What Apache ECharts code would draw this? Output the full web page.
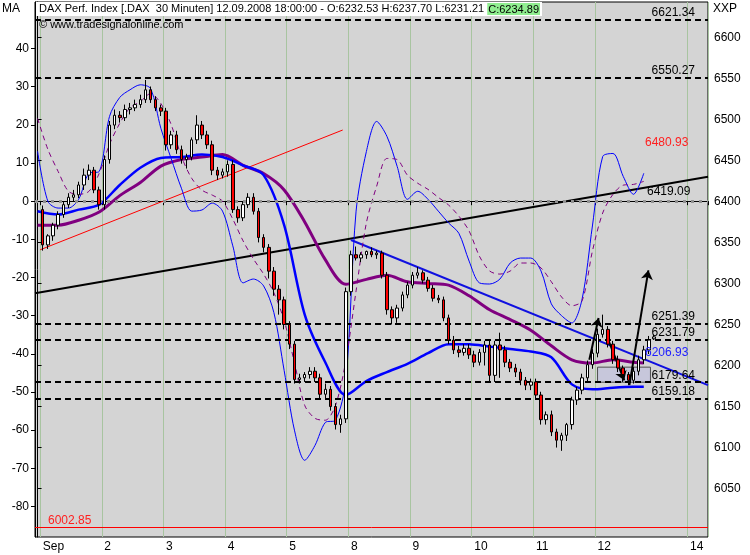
<!DOCTYPE html>
<html><head><meta charset="utf-8">
<script src="https://cdn.jsdelivr.net/npm/echarts@6/dist/echarts.min.js"></script>
<style>html,body{margin:0;padding:0;background:#fff}#c{width:750px;height:555px}</style>
</head><body><div id="c"></div>
<script>
// ---- data ----
const dayLabels = ['Sep','2','3','4','5','8','9','10','11','12'];
const futureLabel = '14';
const priceTicks = [6050,6100,6150,6200,6250,6300,6350,6400,6450,6500,6550,6600];
const maTicks = [-80,-70,-60,-50,-40,-30,-20,-10,0,10,20,30,40];
const opens = [
 6390,6347,6358,6371,6384,6396,6405,6408,6420,6432,6438,6414,
 6396,6451,6493,6505,6502,6512,6514,6518,6524,6536,6524,6514,
 6510,6469,6481,6463,6451,6454,6475,6493,6481,6469,6438,6432,
 6436,6445,6390,6380,6396,6405,6388,6356,6344,6315,6293,6280,
 6250,6226,6183,6185,6189,6193,6185,6165,6171,6150,6128,6135,
 6290,6335,6331,6335,6339,6335,6337,6310,6268,6258,6270,6286,
 6298,6310,6313,6304,6294,6282,6280,6258,6231,6219,6216,6221,
 6213,6204,6216,6225,6188,6225,6219,6204,6197,6192,6182,6176,
 6180,6164,6134,6140,6119,6109,6115,6128,6158,6170,6185,6201,
 6215,6238,6244,6226,6207,6197,6189,6182,6193,6207,6219,6232.53];
const closes = [
 6347,6358,6371,6384,6396,6405,6408,6420,6432,6438,6414,6396,
 6451,6493,6505,6502,6512,6514,6518,6524,6536,6524,6514,6510,
 6469,6481,6463,6451,6454,6475,6493,6481,6469,6438,6432,6436,
 6445,6390,6380,6396,6405,6388,6356,6344,6315,6293,6280,6250,
 6226,6183,6185,6189,6193,6185,6165,6171,6150,6128,6135,6290,
 6335,6331,6335,6339,6335,6337,6310,6268,6258,6270,6286,6298,
 6310,6313,6304,6294,6282,6280,6258,6231,6219,6216,6221,6213,
 6204,6216,6225,6188,6225,6219,6204,6197,6192,6182,6176,6180,
 6164,6134,6140,6119,6109,6115,6128,6158,6170,6185,6201,6215,
 6238,6244,6226,6207,6197,6189,6182,6193,6207,6219,6231,6234.89];
const highs = [
 6395,6360,6374,6388,6400,6410,6414,6424,6440,6445,6442,6418,
 6456,6498,6512,6510,6518,6520,6524,6530,6548,6540,6528,6518,
 6514,6486,6486,6468,6458,6478,6505,6498,6486,6474,6442,6440,
 6450,6450,6394,6400,6410,6410,6392,6360,6348,6320,6298,6284,
 6254,6230,6190,6192,6198,6198,6190,6178,6175,6154,6140,6295,
 6340,6345,6338,6340,6344,6340,6340,6314,6272,6274,6290,6302,
 6314,6320,6316,6308,6298,6286,6284,6262,6236,6224,6226,6226,
 6218,6220,6230,6232,6230,6240,6224,6208,6202,6196,6186,6184,
 6184,6168,6144,6145,6123,6118,6130,6162,6174,6190,6206,6220,
 6245,6262,6248,6230,6212,6200,6192,6198,6212,6224,6236,6237.70];
const lows = [
 6340,6342,6352,6366,6380,6392,6400,6404,6414,6426,6410,6390,
 6390,6446,6488,6496,6498,6506,6510,6514,6520,6520,6510,6504,
 6462,6464,6458,6446,6440,6450,6470,6476,6464,6432,6426,6428,
 6430,6386,6374,6376,6392,6384,6350,6338,6306,6285,6262,6244,
 6220,6178,6178,6180,6184,6180,6160,6160,6145,6122,6118,6130,
 6285,6328,6326,6330,6332,6330,6306,6262,6250,6252,6266,6282,
 6294,6306,6300,6290,6278,6276,6254,6226,6214,6210,6212,6208,
 6198,6200,6200,6180,6180,6185,6198,6192,6186,6176,6170,6170,
 6160,6128,6128,6114,6100,6096,6108,6122,6152,6165,6180,6196,
 6210,6234,6222,6202,6192,6180,6176,6178,6188,6202,6214,6231.21];
// thick averages (price), sampled at bar positions
const maPos = [0,4,8,12,16,20,24,28,32,36,40,44,48,52,56,60,64,68,72,76,80,84,88,92,96,100,104,108,112,116,118];
const maBlue = [6388,6384,6390,6396,6420,6441,6453,6454,6457,6454,6444,6432,6371,6262,6204,6164,6181,6192,6202,6215,6226,6226,6223,6220,6217,6210,6177,6171,6173,6174,6174];
const maPurple = [6371,6371,6377,6387,6407,6423,6443,6451,6454,6457,6444,6434,6414,6375,6329,6299,6305,6310,6302,6300,6298,6285,6268,6256,6243,6224,6207,6203,6207,6204,6203];
// oscillators (left axis), sampled every 2 bars from 0 to 118
const oscBlue = [13.1,0,-1.8,-1.8,0.5,7.3,7.8,22.2,27.2,29.2,30.5,29.5,19.1,11.2,3.4,-2.6,-2.3,-0.5,-2.6,-11.7,-21.4,-20.4,-22.2,-29.2,-44.4,-60,-67.9,-64,-58,-57.4,-47,-2.6,13,20.9,17,9.1,0.5,2.6,0.5,-2.6,-5.7,-8.4,-15.7,-21.4,-21.7,-20.4,-16.2,-14.9,-14.9,-18.3,-26.9,-30,-31.9,-25.6,-6.5,11.7,12.5,6.5,1.8,7.3];
const oscPurple = [21.7,13.6,7.8,2.6,1.8,2.6,7.3,14.9,20.4,24.5,26.1,28.2,25.6,20.1,11.7,6,2.9,1.6,0,-4.7,-10.4,-15.1,-19.1,-24,-31.3,-42.3,-53.5,-56.9,-57.4,-53.5,-41.8,-23.5,-5.7,3.9,11.2,10.9,6.8,4.7,3.1,1,-1,-3.9,-7.8,-14.4,-18.3,-19.1,-18.3,-16.2,-16.2,-17.5,-21.1,-25.1,-27.4,-26.1,-13.1,-3.1,1.8,4.2,4.4,5.2];
// drawn objects
const levels = [6621.34,6550.27,6251.39,6231.79,6179.64,6159.18];
const lowLevel = 6002.85;
const redTrend = [[0.5,6341],[59.4,6487]];
const blackTrend = [[-0.5,6288],[130.5,6430]];
const blueTrend = [[61,6353],[130.5,6176]];
const arrows = [[[107.4,6207],[109.2,6258]],[[111.1,6231],[114.2,6182]],[[115.2,6176],[118.9,6316]]];
const boxCorners = [[109,6198],[119.3,6179.64]];
const header = {name:'DAX Perf. Index [.DAX  30 Minuten]',time:'12.09.2008 18:00:00',o:'6232.53',h:'6237.70',l:'6231.21',c:'6234.89'};

// ---- build ----
const nBars = closes.length, lead = 1, trail = 10, perDay = 12;
const cats = [], candle = [];
for (let i = 0; i < lead + nBars + trail; i++) {
  const b = i - lead;
  let lab = '';
  if (b >= 0 && b < nBars && b % perDay === 0) lab = dayLabels[b / perDay];
  if (i === lead + nBars + 6) lab = futureLabel;
  cats.push(lab);
  candle.push(b >= 0 && b < nBars ? [opens[b], closes[b], lows[b], highs[b]] : '-');
}
const pairs = (xs, ys) => ys.map((v, i) => [xs[i], v]);
const oscX = oscBlue.map((_, i) => i * 2);
const F = 'Liberation Sans';
const chart = echarts.init(document.getElementById('c'));
const lineS = (data, color, width, yi, type) => ({type:'line', xAxisIndex:1, yAxisIndex:yi, data, showSymbol:false, symbol:'none', silent:true, lineStyle:{color, width, type:type||'solid'}, z:3});
chart.setOption({
  animation:false,
  backgroundColor:'#ffffff',
  textStyle:{fontFamily:F},
  grid:{left:35, right:42, top:2, bottom:18, show:true, backgroundColor:'#d4d4d4', borderColor:'#000', borderWidth:1},
  xAxis:[
    {type:'category', data:cats, boundaryGap:true, axisLine:{lineStyle:{color:'#000'}},
     axisTick:{show:true, alignWithLabel:false, interval:(i,v)=>v!=='', lineStyle:{color:'#000'}, length:4},
     axisLabel:{interval:(i,v)=>v!=='', color:'#000', fontSize:12, fontFamily:F, align:'left', margin:4},
     splitLine:{show:true, interval:(i,v)=>v!=='', lineStyle:{color:'#a8c4a0', width:1}}},
    {type:'value', min:-0.5, max:130.5, show:false}
  ],
  yAxis:[
    {type:'value', position:'right', min:5991, max:6643,
     axisLine:{show:true, lineStyle:{color:'#000'}}, axisTick:{show:true, length:4, customValues:priceTicks, lineStyle:{color:'#000'}},
     axisLabel:{color:'#000', fontSize:12, margin:6, customValues:priceTicks, formatter:v=>String(v)},
     splitLine:{show:false}},
    {type:'value', position:'left', min:-88, max:52.2,
     axisLine:{show:true, lineStyle:{color:'#000'}}, axisTick:{show:true, length:4, customValues:maTicks, lineStyle:{color:'#000'}},
     axisLabel:{color:'#000', fontSize:12, margin:6, customValues:maTicks, formatter:v=>String(v)},
     splitLine:{show:false}}
  ],
  graphic:[
    {type:'text', left:2, top:3, z:101, style:{text:'MA', font:'12px '+F, fill:'#000'}},
    {type:'text', left:713, top:3, z:101, style:{text:'XXP', font:'12px '+F, fill:'#000'}},
    {type:'rect', shape:{x:36,y:2,width:506,height:14}, style:{fill:'#fff'}, z:100},
    {type:'text', left:39, top:3, z:101, style:{text:'{a|'+header.name+' '+header.time+' - O:'+header.o+' H:'+header.h+' L:'+header.l+' }{c|C:'+header.c+'}',
      rich:{a:{font:'11px '+F, fill:'#000'}, c:{font:'11px '+F, fill:'#000', backgroundColor:'#90ee90', padding:[1,1,0,1]}}}},
    {type:'text', left:39, top:19, z:101, style:{text:'© www.tradesignalonline.com', font:'11px '+F, fill:'#000'}},
    {type:'text', left:645, top:137, z:101, style:{text:'6480.93', font:'12px '+F, fill:'#ff2020'}},
    {type:'text', left:647, top:186, z:101, style:{text:'6419.09', font:'12px '+F, fill:'#000'}},
    {type:'text', left:645, top:347, z:101, style:{text:'6206.93', font:'12px '+F, fill:'#2020ff'}}
  ],
  series:[
    {type:'candlestick', xAxisIndex:0, yAxisIndex:0, data:candle, barWidth:3, z:5,
     itemStyle:{color:'#ffffff', color0:'#ff0000', borderColor:'#000', borderColor0:'#000', borderWidth:1}},
    Object.assign(lineS(redTrend,'#ff0000',1,0), {
      markLine:{silent:true, symbol:'none', data:levels.map(v=>({yAxis:v})),
        lineStyle:{color:'#000', width:2, type:[6,4]},
        label:{position:'insideEndTop', formatter:p=>p.value.toFixed(2), color:'#000', fontSize:12, fontFamily:F, distance:[13,1]}}}),
    Object.assign(lineS(blackTrend,'#000',2,0), {
      markLine:{silent:true, symbol:'none', data:[{yAxis:lowLevel}], lineStyle:{color:'#ff0000', width:1, type:'solid'},
        label:{position:'insideStartTop', formatter:p=>p.value.toFixed(2), color:'#ff2020', fontSize:12, fontFamily:F, distance:[13,1]}}}),
    lineS(blueTrend,'#1010e0',2,0),
    Object.assign(lineS(pairs(maPos,maPurple),'#800080',3,0), {smooth:0.3}),
    Object.assign(lineS(pairs(maPos,maBlue),'#0000ff',2.5,0), {smooth:0.3}),
    Object.assign(lineS(pairs(oscX,oscBlue),'#0000ff',1,1), {smooth:0.3,
      markLine:{silent:true, symbol:'none', data:[{yAxis:0}], lineStyle:{color:'#909090', width:3, type:[3,5]}, label:{show:false}}}),
    Object.assign(lineS(pairs(oscX,oscPurple),'#800080',1,1,[5,4]), {smooth:0.3}),
    Object.assign(lineS([],'#000',1,0), {markArea:{silent:true, itemStyle:{color:'rgba(196,196,220,0.85)', borderColor:'#505050', borderWidth:1},
      data:[[{coord:boxCorners[0]},{coord:boxCorners[1]}]]}}),
    Object.assign(lineS([],'#000',1,0), {z:6, markLine:{silent:true, symbol:['none','arrow'], symbolSize:9,
      lineStyle:{color:'#000', width:2, type:'solid'}, label:{show:false},
      data:arrows.map(a=>[{coord:a[0]},{coord:a[1]}])}})
  ]
});
</script></body></html>
